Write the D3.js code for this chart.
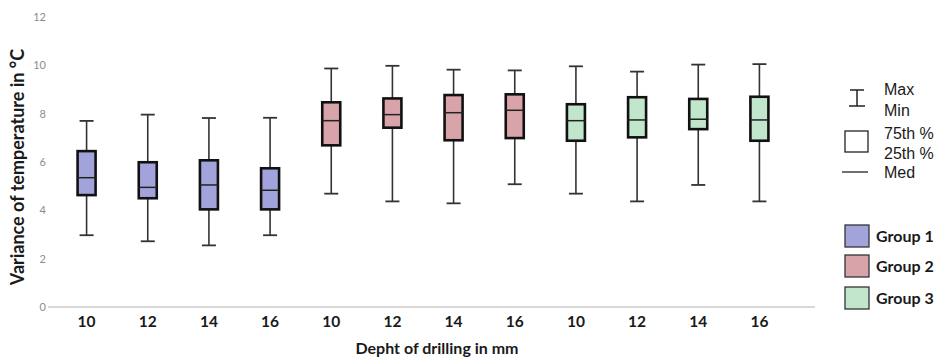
<!DOCTYPE html>
<html>
<head>
<meta charset="utf-8">
<script src="https://cdn.jsdelivr.net/npm/d3@7"></script>
<style>
  body { margin: 0; background: #fff; }
  svg { display: block; }
</style>
</head>
<body>
<div id="canvas"></div>
<script>
// depth labels, one per box
var depths = ["10", "12", "14", "16", "10", "12", "14", "16", "10", "12", "14", "16"];
var groups = [1, 1, 1, 1, 2, 2, 2, 2, 3, 3, 3, 3];
var maxV = [7.7, 7.96, 7.82, 7.83, 9.87, 9.98, 9.82, 9.79, 9.96, 9.74, 10.03, 10.05];
var q3V  = [6.45, 5.99, 6.07, 5.74, 8.47, 8.63, 8.77, 8.8, 8.39, 8.68, 8.61, 8.7];
var medV = [5.35, 4.95, 5.05, 4.83, 7.71, 7.96, 8.04, 8.14, 7.71, 7.74, 7.77, 7.74];
var q1V  = [4.63, 4.5, 4.04, 4.04, 6.69, 7.42, 6.9, 6.99, 6.88, 7.02, 7.36, 6.88];
var minV = [2.97, 2.72, 2.55, 2.97, 4.69, 4.37, 4.29, 5.08, 4.69, 4.37, 5.05, 4.37];
var yTicks = [0, 2, 4, 6, 8, 10, 12];
var groupNames = ["Group 1", "Group 2", "Group 3"];
var groupColors = ["#a3a3dc", "#d9a3aa", "#c1e6cc"];
var statLabels = ["Max", "Min", "75th %", "25th %", "Med"];

var w = 938, h = 358;

var svg = d3.select("#canvas").append("svg")
    .attr("width", w)
    .attr("height", h);

var x = d3.scaleBand().domain(d3.range(depths.length)).range([56, 790]);
var y = d3.scaleLinear().domain([0, 12]).range([307, 17]);
var color = d3.scaleOrdinal().domain([1, 2, 3]).range(groupColors);

// y tick labels (no axis line)
var yAxis = d3.axisLeft(y).tickValues(yTicks).tickSize(0).tickPadding(0);
var gy = svg.append("g").attr("transform", "translate(46,0)").call(yAxis);
gy.select(".domain").remove();
gy.selectAll("text")
    .attr("fill", "#8c8c8c")
    .style("font-family", "Lato, 'Open Sans', sans-serif")
    .style("font-size", "11px");

// baseline
svg.append("line")
    .attr("x1", 48).attr("x2", 815)
    .attr("y1", y(0)).attr("y2", y(0))
    .attr("stroke", "#d9d9d9")
    .attr("stroke-width", 2);

// x tick labels
var xAxis = d3.axisBottom(x).tickFormat(i => depths[i]).tickSize(0).tickPadding(0);
var gx = svg.append("g").attr("transform", "translate(0,313)").call(xAxis);
gx.select(".domain").remove();
gx.selectAll("text")
    .attr("fill", "#1a1a1a")
    .attr("dy", "0.9em")
    .style("font-family", "Lato, 'Open Sans', sans-serif")
    .style("font-weight", "bold")
    .style("font-size", "15.5px");

svg.append("text")
    .attr("x", 437).attr("y", 354)
    .attr("text-anchor", "middle")
    .attr("fill", "#1a1a1a")
    .style("font-family", "Lato, 'Open Sans', sans-serif")
    .style("font-weight", "bold")
    .style("font-size", "16px")
    .text("Depht of drilling in mm");

svg.append("text")
    .attr("transform", "translate(24,167)rotate(-90)")
    .attr("text-anchor", "middle")
    .attr("fill", "#1a1a1a")
    .style("font-family", "Lato, 'Open Sans', sans-serif")
    .style("font-weight", "bold")
    .style("font-size", "18px")
    .text("Variance of temperature in °C");

// boxes
var boxes = svg.selectAll("g.box")
    .data(d3.range(depths.length))
    .enter().append("g")
    .attr("class", "box")
    .attr("transform", i => `translate(${x(i) + x.bandwidth() / 2},0)`);

var bw = 18, cw = 14;

boxes.append("line")
    .attr("x1", 0).attr("x2", 0)
    .attr("y1", i => y(maxV[i])).attr("y2", i => y(minV[i]))
    .attr("stroke", "#333").attr("stroke-width", 1.6);
boxes.append("line")
    .attr("x1", -cw / 2).attr("x2", cw / 2)
    .attr("y1", i => y(maxV[i])).attr("y2", i => y(maxV[i]))
    .attr("stroke", "#333").attr("stroke-width", 1.8);
boxes.append("line")
    .attr("x1", -cw / 2).attr("x2", cw / 2)
    .attr("y1", i => y(minV[i])).attr("y2", i => y(minV[i]))
    .attr("stroke", "#333").attr("stroke-width", 1.8);
boxes.append("rect")
    .attr("x", -bw / 2).attr("width", bw)
    .attr("y", i => y(q3V[i]))
    .attr("height", i => y(q1V[i]) - y(q3V[i]))
    .attr("fill", i => color(groups[i]))
    .attr("stroke", "#111").attr("stroke-width", 2.6);
boxes.append("line")
    .attr("x1", -bw / 2).attr("x2", bw / 2)
    .attr("y1", i => y(medV[i])).attr("y2", i => y(medV[i]))
    .attr("stroke", "#222").attr("stroke-width", 1.5);

// legend: stats key
var lg = svg.append("g");
lg.append("line").attr("x1", 857).attr("x2", 857).attr("y1", 90).attr("y2", 106)
    .attr("stroke", "#222").attr("stroke-width", 1.5);
lg.append("line").attr("x1", 850).attr("x2", 864).attr("y1", 90).attr("y2", 90)
    .attr("stroke", "#222").attr("stroke-width", 1.5);
lg.append("line").attr("x1", 849).attr("x2", 865).attr("y1", 106).attr("y2", 106)
    .attr("stroke", "#222").attr("stroke-width", 1.5);
lg.append("rect").attr("x", 845).attr("y", 131).attr("width", 23).attr("height", 21)
    .attr("fill", "#fff").attr("stroke", "#222").attr("stroke-width", 1.3);
lg.append("line").attr("x1", 842).attr("x2", 868).attr("y1", 172).attr("y2", 172)
    .attr("stroke", "#222").attr("stroke-width", 1.3);
var statY = [95, 116, 139, 159, 178];
lg.selectAll("text.stat")
    .data(statLabels).enter().append("text")
    .attr("class", "stat")
    .attr("x", 884)
    .attr("y", (d, i) => statY[i])
    .attr("fill", "#1a1a1a")
    .style("font-family", "'Liberation Sans', Arial, sans-serif")
    .style("font-size", "16px")
    .text(d => d);

// legend: groups
var swatchY = [225, 255, 287];
var gl = svg.selectAll("g.glegend")
    .data(groupNames).enter().append("g")
    .attr("class", "glegend")
    .attr("transform", (d, i) => `translate(845,${swatchY[i]})`);
gl.append("rect")
    .attr("width", 24).attr("height", 22)
    .attr("fill", (d, i) => groupColors[i])
    .attr("stroke", "#333").attr("stroke-width", 1.3);
gl.append("text")
    .attr("x", 31).attr("y", 17)
    .attr("fill", "#1a1a1a")
    .style("font-family", "Lato, 'Open Sans', sans-serif")
    .style("font-weight", "bold")
    .style("font-size", "16px")
    .text(d => d);
</script>
</body>
</html>
